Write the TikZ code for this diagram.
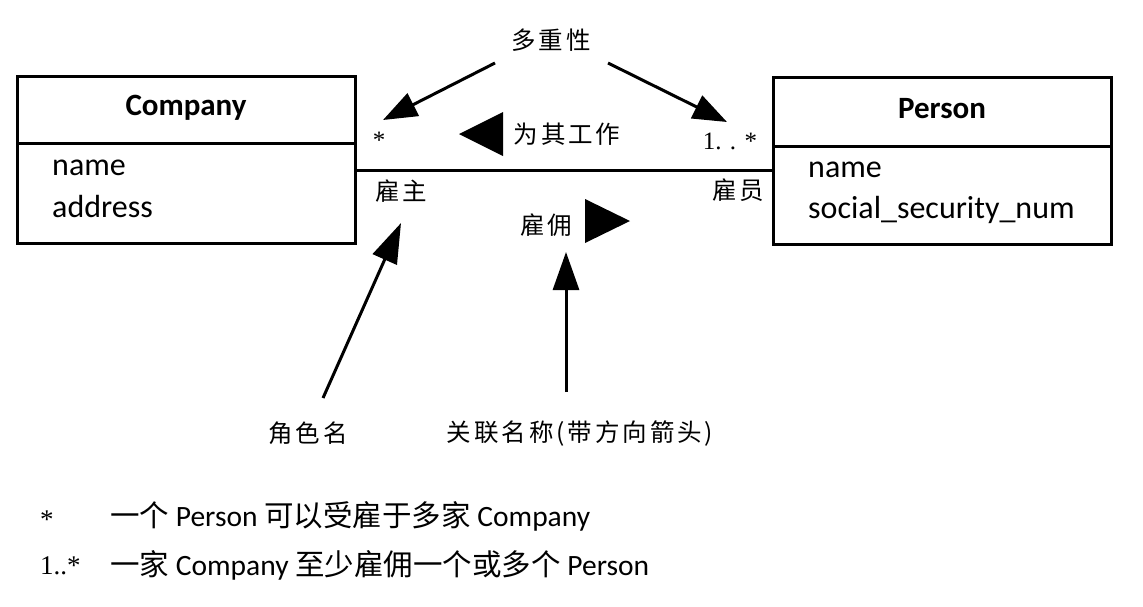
\documentclass[tikz,border=0pt]{standalone}
\usepackage{fontspec}
\setmainfont{Carlito}
\newfontfamily\cjk{Noto Sans CJK SC}
\newfontfamily\cjksp[LetterSpace=12]{Noto Sans CJK SC}
\newfontfamily\serifnum{Liberation Serif}
\usetikzlibrary{arrows.meta}
\tikzset{
  classbox/.style={draw, line width=3pt, minimum width=338pt, minimum height=167pt, inner sep=0pt},
  hdr/.style={font=\fontsize{31}{36}\selectfont\bfseries},
  attr/.style={font=\fontsize{32}{36}\selectfont, anchor=west, inner sep=0pt},
  cn/.style={font=\cjksp\fontsize{24.5}{28}\selectfont, inner sep=0pt},
  mult/.style={font=\serifnum\fontsize{25}{28}\selectfont, inner sep=0pt},
  note/.style={font=\fontsize{29.5}{34}\selectfont, anchor=west, inner sep=0pt},
  notesym/.style={font=\serifnum\fontsize{27}{30}\selectfont, anchor=west, inner sep=0pt},
  ptr/.style={line width=3pt, -{Triangle[length=34pt,width=25pt]}},
  dirtri/.style={fill=black},
}
\begin{document}
\begin{tikzpicture}[x=1pt,y=-1pt]
\useasboundingbox (0,0) rectangle (1143,606);
% class boxes
\node[classbox] (comp) at (186,159.5) {};
\node[classbox] (pers) at (942,160.5) {};
\draw[line width=3pt] (17,143) -- (355,143);
\draw[line width=3pt] (773,146) -- (1111,146);
\node[hdr] (compname) at (186,108) {Company};
\node[hdr] (persname) at (942,109) {Person};
\node[attr] (ca1) at (52,168) {name};
\node[attr] (ca2) at (52,207) {address};
\node[attr] (pa1) at (808,170) {name};
\node[attr] (pa2) at (808,210) {social\_security\_num};
% association
\coordinate (al) at (355,170);
\coordinate (ar) at (773,170);
\draw[line width=3pt] (al) -- (ar);
% labels
\node[mult] (m1) at (379,140) {*};
\node[mult] (m2) at (730,141) {1.\,\,.\,\,*};
\node[cn] (role1) at (401,191) {雇主};
\node[cn] (role2) at (738,190) {雇员};
\node[cn] (work) at (567,134) {为其工作};
\node[cn] (hire) at (546,225) {雇佣};
\fill[dirtri] (459,134) -- (503,112) -- (503,156) -- cycle;
\fill[dirtri] (630,221) -- (585,199) -- (585,243) -- cycle;
% callouts
\node[cn] (multi) at (551,40) {多重性};
\node[cn] (rolename) at (308,433) {角色名};
\node[cn] (assocname) at (580,433) {关联名称(带方向箭头)};
\coordinate (t1) at (383,120);
\coordinate (t2) at (727,122);
\coordinate (t3) at (401,223);
\coordinate (t4) at (566,252);
\coordinate (s1) at (495,63);
\coordinate (s2) at (608,63);
\coordinate (s3) at (323,398);
\coordinate (s4) at (566,392);
\draw[ptr] (s1) -- (t1);
\draw[ptr] (s2) -- (t2);
\draw[ptr, -{Triangle[length=40pt,width=26pt]}] (s3) -- (t3);
\draw[ptr, -{Triangle[length=38pt,width=26pt]}] (s4) -- (t4);
% notes
\node[notesym] (n1s) at (40,520) {*};
\node[note] (n1) at (110,516) {{\cjk 一个} Person {\cjk 可以受雇于多家} Company};
\node[notesym] (n2s) at (40,566) {1..*};
\node[note] (n2) at (110,565) {{\cjk 一家} Company {\cjk 至少雇佣一个或多个} Person};
\end{tikzpicture}
\end{document}
